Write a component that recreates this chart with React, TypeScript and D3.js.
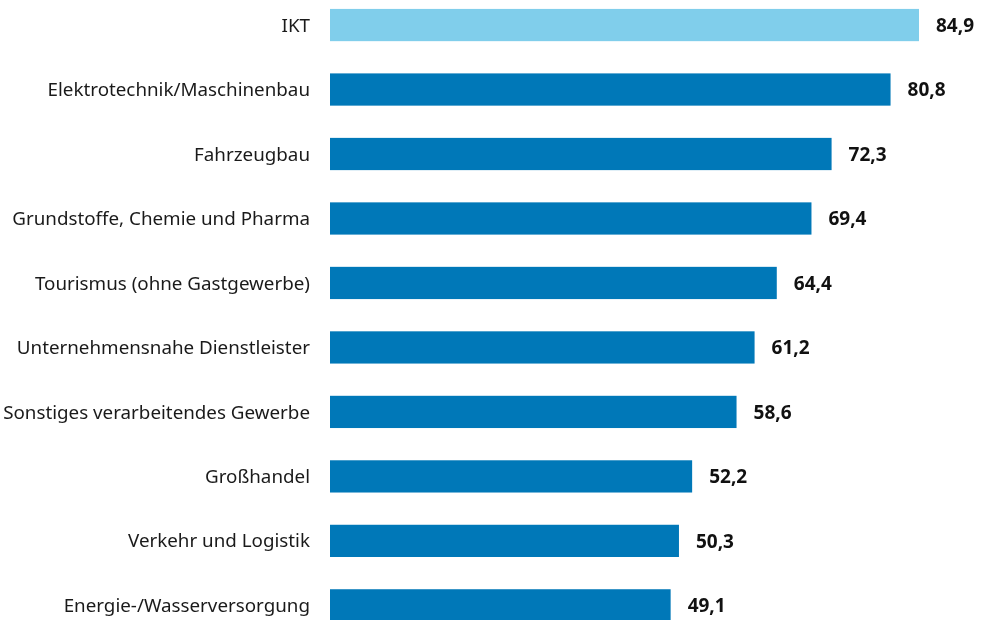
import React, { useRef, useEffect } from 'react';
import * as d3 from 'd3';

// branch names, top to bottom
const categories = [
  'IKT',
  'Elektrotechnik/Maschinenbau',
  'Fahrzeugbau',
  'Grundstoffe, Chemie und Pharma',
  'Tourismus (ohne Gastgewerbe)',
  'Unternehmensnahe Dienstleister',
  'Sonstiges verarbeitendes Gewerbe',
  'Großhandel',
  'Verkehr und Logistik',
  'Energie-/Wasserversorgung',
];
const values = [84.9, 80.8, 72.3, 69.4, 64.4, 61.2, 58.6, 52.2, 50.3, 49.1];
const highlighted = ['IKT'];

const width = 981;
const height = 620;

function BarChart() {
  const svgRef = useRef<SVGSVGElement>(null);

  useEffect(() => {
    const svg = d3.select(svgRef.current);
    svg.selectAll('*').remove();

    const data = categories.map((c, i) => ({ name: c, value: values[i] }));

    const x = d3.scaleLinear().domain([0, 84.9]).range([330, 919]);
    const y = d3
      .scaleBand()
      .domain(categories)
      .range([-7.2, 637.6])
      .paddingInner(0.5)
      .paddingOuter(0.25);

    const fmt = (v: number) => v.toFixed(1).replace('.', ',');

    const rows = svg.selectAll('g.row').data(data).join('g').attr('class', 'row');

    rows
      .append('rect')
      .attr('x', x(0))
      .attr('y', d => y(d.name)!)
      .attr('width', d => x(d.value) - x(0))
      .attr('height', y.bandwidth())
      .attr('fill', d => (highlighted.includes(d.name) ? '#80ceeb' : '#0078b8'));

    rows
      .append('text')
      .attr('x', x(0) - 20)
      .attr('y', d => y(d.name)! + y.bandwidth() / 2)
      .attr('dy', '0.35em')
      .attr('text-anchor', 'end')
      .style('font-family', '"Noto Sans", sans-serif')
      .style('font-size', '18.8px')
      .style('fill', '#1a1a1a')
      .text(d => d.name);

    rows
      .append('text')
      .attr('x', d => x(d.value) + 17)
      .attr('y', d => y(d.name)! + y.bandwidth() / 2)
      .attr('dy', '0.36em')
      .style('font-family', '"Noto Sans", sans-serif')
      .style('font-size', '19px')
      .style('font-weight', 'bold')
      .style('fill', '#111')
      .text(d => fmt(d.value));
  }, []);

  return (
    <svg
      ref={svgRef}
      width={width}
      height={height}
      style={{ display: 'block', position: 'fixed', top: 0, left: 0 }}
    />
  );
}

export default function App() {
  return <BarChart />;
}
